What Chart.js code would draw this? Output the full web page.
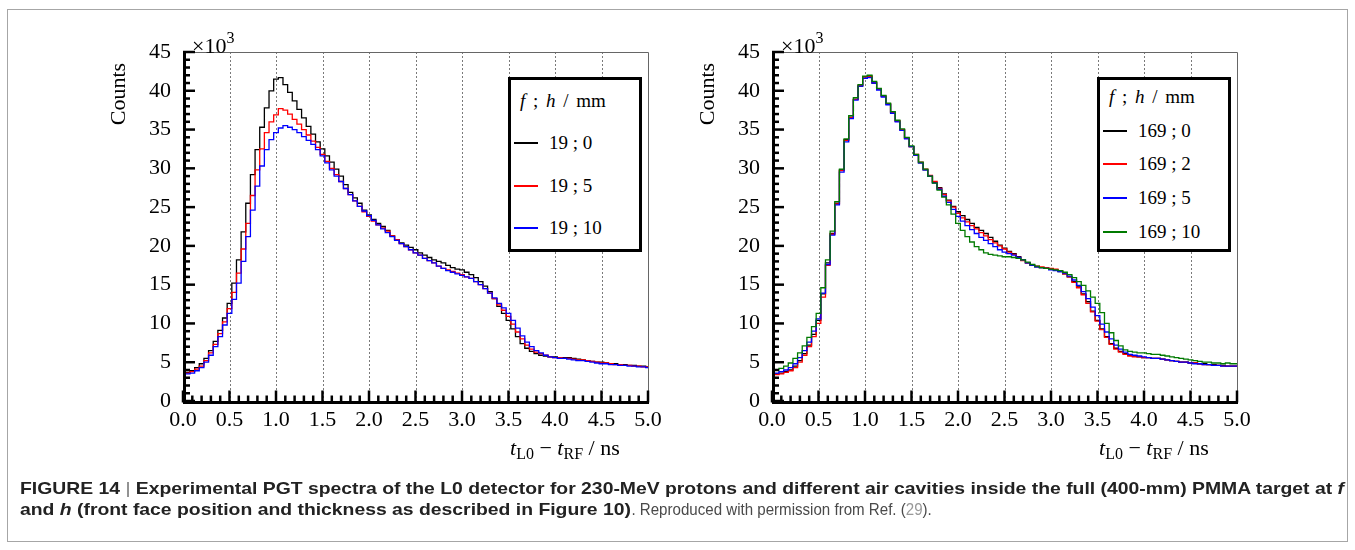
<!DOCTYPE html>
<html>
<head>
<meta charset="utf-8">
<script src="https://cdn.jsdelivr.net/npm/chart.js@4.4.1/dist/chart.umd.min.js"></script>
<style>
  body { margin: 0; width: 1355px; height: 550px; background: #fff; position: relative; overflow: hidden; font-family: "Liberation Serif", serif; color: #000; }
  #frame { position: absolute; left: 7px; top: 9px; width: 1339px; height: 531px; border: 1px solid #a6a6a6; }
  .panel { position: absolute; top: 20px; width: 570px; height: 460px; }
  .ytitle { position: absolute; font-size: 22px; transform: translate(-50%, -50%) rotate(-90deg); white-space: nowrap; }
  .mult { position: absolute; font-size: 22px; white-space: nowrap; line-height: 1; }
  .mult sup { font-size: 16px; position: relative; top: -2px; }
  .xtitle { position: absolute; font-size: 22px; white-space: nowrap; line-height: 1; }
  .xtitle sub { font-size: 16px; vertical-align: -4px; }
  .legend { position: absolute; top: 77px; width: 128px; height: 169px; border: 3px solid #000; background: #fff; display: flex; flex-direction: column; }
  .legend .row { flex: 1; display: flex; align-items: center; font-size: 19px; white-space: nowrap; position: relative; }
  .legend .swatch { position: absolute; left: 3px; width: 24px; height: 0; border-top: 2px solid #000; }
  .legend .lab { position: absolute; left: 38px; }
  .legend .head { position: absolute; left: 9px; word-spacing: 3px; }
  .caption { position: absolute; left: 20px; font-family: "Liberation Sans", Arial, sans-serif; font-size: 17px; white-space: nowrap; transform-origin: 0 0; color: #222; }
  .caption b { font-weight: bold; }
  .caption .bar { font-weight: normal; color: #777; }
  .caption .plain { color: #4a4a4a; display: inline-block; transform: scaleX(0.78); transform-origin: 0 50%; }
  .caption .ref { color: #999; }
</style>
</head>
<body>
<div id="frame"></div>

<div class="panel" style="left:100px"><canvas id="chartLeft" width="570" height="460"></canvas></div>
<div class="panel" style="left:689px"><canvas id="chartRight" width="570" height="460"></canvas></div>

<div class="ytitle" style="left:118px; top:94px">Counts</div>
<div class="ytitle" style="left:707px; top:94px">Counts</div>
<div class="mult" style="left:192px; top:32px">×10<sup>3</sup></div>
<div class="mult" style="left:781px; top:32px">×10<sup>3</sup></div>
<div class="xtitle" style="left:510px; top:437px"><i>t</i><sub>L0</sub> − <i>t</i><sub>RF</sub> / ns</div>
<div class="xtitle" style="left:1099px; top:437px"><i>t</i><sub>L0</sub> − <i>t</i><sub>RF</sub> / ns</div>

<div class="legend" id="legendLeft" style="left:508px"></div>
<div class="legend" id="legendRight" style="left:1097px"></div>

<div class="caption" id="cap1" style="top:479px"><b>FIGURE 14 <span class="bar">|</span> Experimental PGT spectra of the L0 detector for 230-MeV protons and different air cavities inside the full (400-mm) PMMA target at <i>f</i></b></div>
<div class="caption" id="cap2" style="top:500px"><b>and <i>h</i> (front face position and thickness as described in Figure 10)</b><span class="plain">. Reproduced with permission from Ref. (<span class="ref">29</span>).</span></div>

<script>
// bin positions (ns)
const timeNs = [
  0.00, 0.05, 0.10, 0.15, 0.20, 0.25, 0.30, 0.35, 0.40, 0.45,
  0.50, 0.55, 0.60, 0.65, 0.70, 0.75, 0.80, 0.85, 0.90, 0.95,
  1.00, 1.05, 1.10, 1.15, 1.20, 1.25, 1.30, 1.35, 1.40, 1.45,
  1.50, 1.55, 1.60, 1.65, 1.70, 1.75, 1.80, 1.85, 1.90, 1.95,
  2.00, 2.05, 2.10, 2.15, 2.20, 2.25, 2.30, 2.35, 2.40, 2.45,
  2.50, 2.55, 2.60, 2.65, 2.70, 2.75, 2.80, 2.85, 2.90, 2.95,
  3.00, 3.05, 3.10, 3.15, 3.20, 3.25, 3.30, 3.35, 3.40, 3.45,
  3.50, 3.55, 3.60, 3.65, 3.70, 3.75, 3.80, 3.85, 3.90, 3.95,
  4.00, 4.05, 4.10, 4.15, 4.20, 4.25, 4.30, 4.35, 4.40, 4.45,
  4.50, 4.55, 4.60, 4.65, 4.70, 4.75, 4.80, 4.85, 4.90, 4.95,
  5.00
];

// counts in units of 10^3 -- left panel, f = 19 mm
const f19_h0 = [
  3.6, 3.7, 3.9, 4.3, 4.8, 5.5, 6.5, 7.7, 9.1, 10.7,
  12.6, 15.2, 18.2, 21.8, 25.5, 29.2, 32.4, 35.3, 37.8, 40.0,
  41.5, 41.7, 40.8, 39.8, 38.7, 37.6, 36.5, 35.4, 34.4, 33.4,
  32.5, 31.6, 30.8, 29.9, 29.0, 27.9, 26.9, 26.2, 25.5, 24.6,
  24.0, 23.4, 22.9, 22.5, 22.0, 21.3, 20.8, 20.4, 20.1, 19.8,
  19.5, 19.1, 18.8, 18.5, 18.2, 18.0, 17.8, 17.5, 17.2, 17.0,
  16.9, 16.6, 16.3, 15.9, 15.4, 14.8, 14.1, 13.2, 12.2, 11.3,
  10.4, 9.3, 8.3, 7.4, 6.8, 6.4, 6.1, 5.9, 5.8, 5.7,
  5.7, 5.6, 5.6, 5.6, 5.5, 5.4, 5.3, 5.2, 5.1, 5.0,
  5.0, 4.9, 4.8, 4.8, 4.7, 4.7, 4.6, 4.6, 4.5, 4.5,
  4.4
];
const f19_h5 = [
  3.5, 3.6, 3.8, 4.1, 4.5, 5.2, 6.2, 7.3, 8.7, 10.2,
  11.9, 14.0, 16.5, 19.6, 22.9, 26.5, 29.8, 32.5, 34.6, 36.0,
  36.9, 37.7, 37.5, 37.0, 36.3, 35.7, 35.0, 34.3, 33.5, 32.7,
  31.8, 30.9, 30.0, 29.2, 28.3, 27.4, 26.6, 25.8, 25.1, 24.4,
  23.8, 23.2, 22.7, 22.3, 21.9, 21.3, 20.8, 20.3, 19.9, 19.5,
  19.1, 18.8, 18.4, 18.1, 17.8, 17.4, 17.1, 16.9, 16.7, 16.5,
  16.3, 16.0, 15.8, 15.4, 15.0, 14.5, 13.9, 13.2, 12.4, 11.7,
  10.9, 9.9, 8.9, 8.0, 7.2, 6.7, 6.3, 6.1, 5.9, 5.7,
  5.6, 5.6, 5.5, 5.5, 5.4, 5.3, 5.3, 5.2, 5.1, 5.0,
  4.9, 4.9, 4.8, 4.7, 4.7, 4.6, 4.6, 4.5, 4.5, 4.4,
  4.4
];
const f19_h10 = [
  3.4, 3.5, 3.6, 3.9, 4.3, 5.0, 5.9, 7.0, 8.3, 9.8,
  11.3, 13.1, 15.2, 18.0, 21.2, 24.6, 27.7, 30.3, 32.4, 33.7,
  34.6, 35.2, 35.5, 35.3, 35.0, 34.6, 34.1, 33.6, 33.1, 32.4,
  31.6, 30.7, 29.8, 29.0, 28.3, 27.4, 26.6, 25.8, 25.1, 24.5,
  23.9, 23.3, 22.7, 22.2, 21.7, 21.2, 20.7, 20.3, 19.9, 19.5,
  19.1, 18.8, 18.4, 18.1, 17.8, 17.4, 17.1, 16.8, 16.6, 16.4,
  16.2, 16.0, 15.8, 15.4, 15.0, 14.5, 13.9, 13.3, 12.6, 12.0,
  11.3, 10.4, 9.4, 8.4, 7.6, 7.0, 6.5, 6.2, 5.9, 5.7,
  5.6, 5.5, 5.5, 5.4, 5.3, 5.2, 5.2, 5.1, 5.0, 4.9,
  4.8, 4.8, 4.7, 4.7, 4.6, 4.6, 4.5, 4.5, 4.4, 4.4,
  4.3
];

// right panel, f = 169 mm
const f169_h0 = [
  3.5, 3.5, 3.6, 3.8, 4.0, 4.5, 5.2, 6.1, 7.2, 8.6,
  10.4, 13.8, 17.8, 21.6, 25.5, 29.8, 33.7, 36.6, 38.9, 40.6,
  41.8, 41.9, 41.0, 40.2, 39.3, 38.3, 37.2, 36.1, 35.0, 33.9,
  32.8, 31.7, 30.7, 29.8, 29.0, 28.2, 27.5, 26.7, 25.9, 25.1,
  24.4, 23.9, 23.4, 22.9, 22.4, 22.0, 21.6, 21.1, 20.6, 20.1,
  19.7, 19.3, 19.0, 18.6, 18.2, 17.8, 17.5, 17.3, 17.2, 17.1,
  17.0, 16.9, 16.7, 16.4, 16.0, 15.4, 14.7, 13.8, 12.8, 11.6,
  10.4, 9.3, 8.3, 7.4, 6.8, 6.4, 6.1, 5.9, 5.8, 5.7,
  5.6, 5.6, 5.5, 5.5, 5.4, 5.3, 5.2, 5.1, 5.0, 5.0,
  4.9, 4.9, 4.8, 4.8, 4.7, 4.7, 4.6, 4.6, 4.5, 4.5,
  4.5
];
const f169_h2 = [
  3.4, 3.4, 3.5, 3.7, 3.9, 4.3, 5.0, 5.9, 7.0, 8.3,
  10.0, 13.4, 17.5, 21.5, 25.4, 29.7, 33.6, 36.5, 38.9, 40.7,
  41.8, 41.9, 41.1, 40.2, 39.3, 38.3, 37.2, 36.1, 35.0, 33.9,
  32.8, 31.8, 30.8, 29.9, 29.1, 28.3, 27.4, 26.6, 25.8, 25.0,
  24.2, 23.6, 23.1, 22.6, 22.2, 21.7, 21.3, 20.8, 20.4, 20.0,
  19.6, 19.2, 18.9, 18.5, 18.1, 17.8, 17.5, 17.4, 17.3, 17.2,
  17.1, 17.0, 16.8, 16.4, 16.0, 15.3, 14.6, 13.7, 12.6, 11.5,
  10.3, 9.2, 8.2, 7.3, 6.7, 6.3, 6.0, 5.8, 5.7, 5.7,
  5.6, 5.6, 5.5, 5.5, 5.4, 5.3, 5.2, 5.1, 5.0, 5.0,
  4.9, 4.9, 4.8, 4.7, 4.7, 4.6, 4.6, 4.5, 4.5, 4.5,
  4.5
];
const f169_h5 = [
  3.5, 3.6, 3.8, 4.0, 4.3, 4.8, 5.6, 6.5, 7.6, 9.0,
  10.6, 13.9, 17.6, 21.4, 25.3, 29.5, 33.4, 36.4, 38.8, 40.6,
  41.6, 41.7, 41.0, 40.1, 39.2, 38.2, 37.1, 36.0, 34.9, 33.8,
  32.8, 31.7, 30.7, 29.8, 29.0, 28.1, 27.3, 26.4, 25.6, 24.7,
  23.8, 23.2, 22.6, 22.1, 21.6, 21.1, 20.7, 20.3, 19.9, 19.5,
  19.2, 19.0, 18.8, 18.5, 18.2, 17.8, 17.5, 17.3, 17.2, 17.1,
  16.9, 16.8, 16.7, 16.5, 16.1, 15.6, 14.9, 14.1, 13.2, 12.1,
  11.0, 9.9, 8.9, 8.0, 7.2, 6.7, 6.3, 6.0, 5.9, 5.8,
  5.7, 5.6, 5.5, 5.5, 5.4, 5.3, 5.2, 5.1, 5.0, 5.0,
  4.9, 4.8, 4.8, 4.7, 4.7, 4.6, 4.6, 4.5, 4.5, 4.5,
  4.5
];
const f169_h10 = [
  3.8, 4.0, 4.2, 4.5, 4.9, 5.5, 6.2, 7.1, 8.2, 9.6,
  11.3, 14.6, 18.2, 21.9, 25.7, 29.9, 33.8, 36.8, 39.1, 40.8,
  41.9, 42.0, 41.2, 40.3, 39.4, 38.4, 37.3, 36.2, 35.1, 34.0,
  32.9, 31.8, 30.8, 29.9, 29.0, 28.1, 27.2, 26.3, 25.3, 24.1,
  22.9, 22.0, 21.2, 20.5, 19.9, 19.5, 19.1, 18.9, 18.8, 18.7,
  18.6, 18.6, 18.5, 18.4, 18.2, 17.9, 17.6, 17.4, 17.2, 17.1,
  17.0, 16.9, 16.8, 16.6, 16.3, 15.9, 15.4, 14.9, 14.2, 13.4,
  12.6, 11.4, 10.0, 8.8, 7.8, 7.1, 6.6, 6.4, 6.3, 6.2,
  6.2, 6.1, 6.0, 6.0, 5.9, 5.8, 5.7, 5.6, 5.5, 5.4,
  5.3, 5.2, 5.1, 5.0, 5.0, 4.9, 4.9, 4.8, 4.9, 4.8,
  4.8
];

const leftLabels = ["19 ; 0", "19 ; 5", "19 ; 10"];
const leftColors = ["#000000", "#ff0000", "#0000ff"];
const rightLabels = ["169 ; 0", "169 ; 2", "169 ; 5", "169 ; 10"];
const rightColors = ["#000000", "#ff0000", "#0000ff", "#007a00"];

const yTickValues = [0, 5, 10, 15, 20, 25, 30, 35, 40, 45];

// ROOT-like frame: dotted vertical grid, thick left/bottom axes with inner ticks
const rootFrame = {
  id: "rootFrame",
  beforeDatasetsDraw(chart) {
    const { ctx, chartArea: a, scales: { x } } = chart;
    ctx.save();
    ctx.strokeStyle = "#7a7a7a";
    ctx.lineWidth = 1;
    ctx.setLineDash([2, 2]);
    x.ticks.forEach((t) => {
      if (t.value <= x.min || t.value >= x.max) return;
      const px = Math.round(x.getPixelForValue(t.value)) + 0.5;
      ctx.beginPath();
      ctx.moveTo(px, a.top);
      ctx.lineTo(px, a.bottom);
      ctx.stroke();
    });
    ctx.restore();
  },
  afterDatasetsDraw(chart) {
    const { ctx, chartArea: a, scales: { x, y } } = chart;
    ctx.save();
    // thin top / right frame
    ctx.strokeStyle = "#666";
    ctx.lineWidth = 1;
    ctx.beginPath();
    ctx.moveTo(a.left, a.top + 0.5);
    ctx.lineTo(a.right + 0.5, a.top + 0.5);
    ctx.lineTo(a.right + 0.5, a.bottom);
    ctx.stroke();
    // thick axes
    ctx.strokeStyle = "#000";
    ctx.lineWidth = 3;
    ctx.beginPath();
    ctx.moveTo(a.left + 1.5, a.top);
    ctx.lineTo(a.left + 1.5, a.bottom + 1.5);
    ctx.lineTo(a.right + 1, a.bottom + 1.5);
    ctx.stroke();
    // y ticks: minor every 1, major every 5
    ctx.lineWidth = 2.5;
    for (let v = y.min; v <= y.max; v += 1) {
      const py = y.getPixelForValue(v);
      const len = v % 5 === 0 ? 12 : 7;
      ctx.beginPath();
      ctx.moveTo(a.left, py);
      ctx.lineTo(a.left + len, py);
      ctx.stroke();
    }
    // x ticks: minor every 0.1, major every 0.5
    for (let i = 0; i <= 50; i++) {
      const v = i / 10;
      const px = x.getPixelForValue(v);
      const len = i % 5 === 0 ? 12 : 7;
      ctx.beginPath();
      ctx.moveTo(px, a.bottom + 1.5);
      ctx.lineTo(px, a.bottom + 1.5 - len);
      ctx.stroke();
    }
    ctx.restore();
  }
};

const makeDatasets = (seriesList, labels, colors) =>
  seriesList.map((vals, i) => ({
    label: labels[i],
    data: timeNs.map((t, k) => ({ x: t, y: vals[k] })),
    borderColor: colors[i],
    borderWidth: 1.3,
    pointRadius: 0,
    stepped: "middle",
    fill: false,
    order: seriesList.length - i // later series drawn on top
  }));

const makeChart = (canvasId, datasets) => {
  const ctx = document.getElementById(canvasId).getContext("2d");
  return new Chart(ctx, {
    type: "line",
    data: { datasets },
    options: {
      responsive: false,
      animation: false,
      layout: { padding: { left: 0, right: 22, top: 32, bottom: 49 } },
      scales: {
        x: {
          type: "linear",
          min: 0,
          max: 5,
          grid: { display: false, drawTicks: false },
          border: { display: false },
          ticks: {
            stepSize: 0.5,
            autoSkip: false,
            maxRotation: 0,
            padding: 6,
            color: "#000",
            font: { family: "Liberation Serif", size: 22 },
            callback: (v) => Number(v).toFixed(1)
          },
          afterFit: (s) => { s.height = 30; }
        },
        y: {
          min: 0,
          max: 45,
          grid: { display: false, drawTicks: false },
          border: { display: false },
          afterBuildTicks: (s) => { s.ticks = yTickValues.map((v) => ({ value: v })); },
          ticks: {
            padding: 12,
            color: "#000",
            font: { family: "Liberation Serif", size: 22 }
          },
          afterFit: (s) => { s.width = 83; }
        }
      },
      plugins: { legend: { display: false }, tooltip: { enabled: false } }
    },
    plugins: [rootFrame]
  });
};

// HTML legend in ROOT style
const buildLegend = (id, labels, colors) => {
  const box = document.getElementById(id);
  const head = document.createElement("div");
  head.className = "row";
  head.innerHTML = '<span class="head"><i>f</i> ; <i>h</i> / mm</span>';
  box.appendChild(head);
  labels.forEach((lab, i) => {
    const row = document.createElement("div");
    row.className = "row";
    row.innerHTML = `<span class="swatch" style="border-top-color:${colors[i]}"></span><span class="lab">${lab}</span>`;
    box.appendChild(row);
  });
};

makeChart("chartLeft", makeDatasets([f19_h0, f19_h5, f19_h10], leftLabels, leftColors));
makeChart("chartRight", makeDatasets([f169_h0, f169_h2, f169_h5, f169_h10], rightLabels, rightColors));
buildLegend("legendLeft", leftLabels, leftColors);
buildLegend("legendRight", rightLabels, rightColors);

// fit caption lines to the figure width
const cap1 = document.getElementById("cap1");
const cap2 = document.getElementById("cap2");
const scale = 1324 / cap1.getBoundingClientRect().width;
[cap1, cap2].forEach((c) => { c.style.transform = `scaleX(${scale})`; });
</script>
</body>
</html>
